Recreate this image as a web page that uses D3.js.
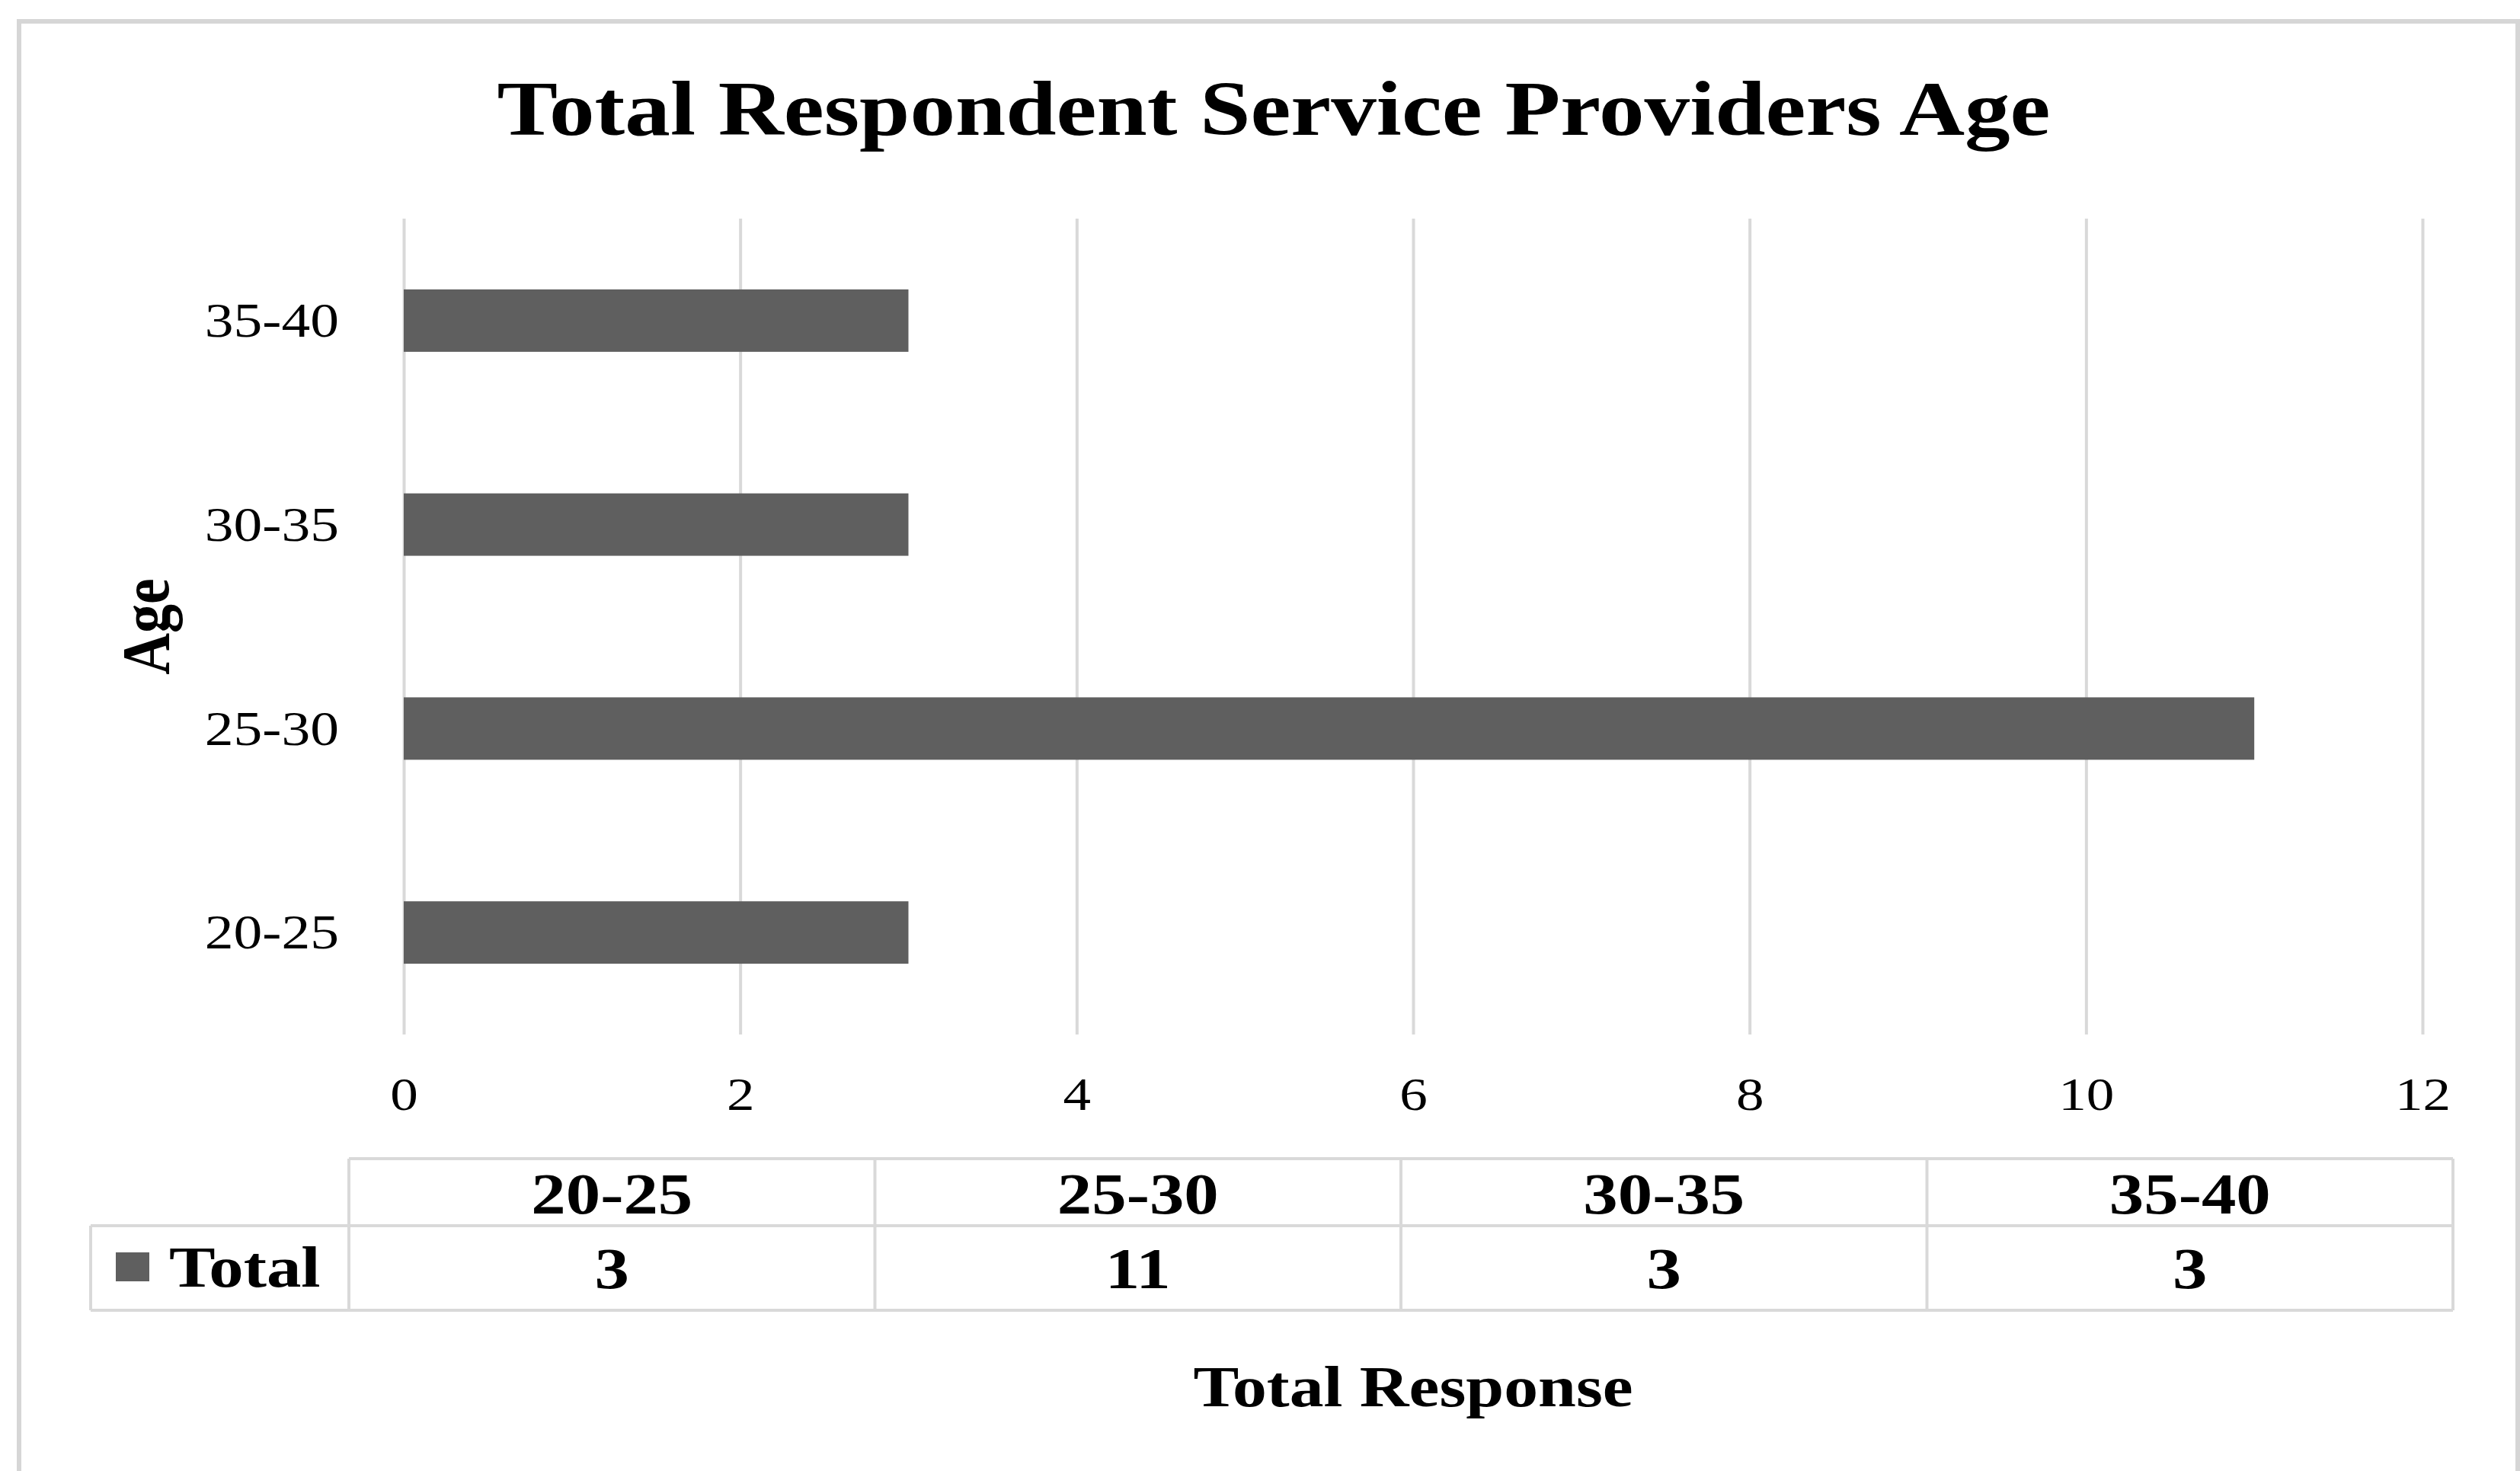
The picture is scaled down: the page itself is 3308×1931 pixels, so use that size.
<!DOCTYPE html>
<html>
<head>
<meta charset="utf-8">
<script src="https://cdn.jsdelivr.net/npm/d3@7"></script>
<style>
  html, body { margin: 0; padding: 0; background: #ffffff; }
  svg { display: block; }
  text { font-family: "Liberation Serif", "Times New Roman", serif; fill: #000; }
</style>
</head>
<body>
<svg id="chart" width="3308" height="1931"></svg>
<script>
// ---- data ----
const categories = ["20-25", "25-30", "30-35", "35-40"];
const values = [3, 11, 3, 3];
const seriesName = "Total";
const xTicks = [0, 2, 4, 6, 8, 10, 12];
const titleText = "Total Respondent Service Providers Age";
const xTitle = "Total Response";
const yTitle = "Age";

// ---- layout ----
const W = 3308, H = 1931;
const plot = { left: 530, right: 3180, top: 287, bottom: 1358 };
const STRETCH = 1.18;
const barColor = "#5f5f5f";
const gridColor = "#d9d9d9";

const svg = d3.select("#chart");
svg.append("rect").attr("width", W).attr("height", H).attr("fill", "#fff");

// outer chart border (top, left, right; bottom runs off the picture)
svg.append("path")
  .attr("d", `M25,${H + 10} L25,28 L3305,28 L3305,${H + 10}`)
  .attr("fill", "none").attr("stroke", "#d6d6d6").attr("stroke-width", 6);

function stretchedText(g, x, y, txt, size, weight, anchor) {
  return g.append("text")
    .attr("transform", `translate(${x},${y}) scale(${STRETCH},1)`)
    .attr("text-anchor", anchor || "middle")
    .attr("font-size", size)
    .attr("font-weight", weight || "normal")
    .text(txt);
}

// ---- scales ----
const x = d3.scaleLinear().domain([0, 12]).range([plot.left, plot.right]);
const y = d3.scaleBand()
  .domain(categories.slice().reverse())
  .range([plot.top, plot.bottom])
  .paddingInner(0.694).paddingOuter(0.347);

// ---- gridlines + x axis ----
const xAxis = d3.axisBottom(x).tickValues(xTicks).tickFormat(d3.format("d"))
  .tickSize(-(plot.bottom - plot.top)).tickPadding(0);
const gx = svg.append("g").attr("transform", `translate(0,${plot.bottom})`).call(xAxis);
gx.select(".domain").remove();
gx.selectAll(".tick line").attr("stroke", gridColor).attr("stroke-width", 4);
gx.selectAll(".tick text")
  .attr("y", 99).attr("dy", 0)
  .attr("transform", `scale(${STRETCH},1)`)
  .attr("font-size", 62)
  .attr("font-family", "Liberation Serif, serif")
  .attr("fill", "#111");

// ---- bars ----
svg.append("g").selectAll("rect")
  .data(categories.map((c, i) => ({ c, v: values[i] })))
  .join("rect")
  .attr("x", x(0))
  .attr("y", d => y(d.c))
  .attr("width", d => x(d.v) - x(0))
  .attr("height", y.bandwidth())
  .attr("fill", barColor);

// ---- y axis labels ----
const yAxis = d3.axisLeft(y).tickSize(0).tickPadding(0);
const gy = svg.append("g").attr("transform", `translate(${plot.left},0)`).call(yAxis);
gy.select(".domain").remove();
gy.selectAll(".tick text")
  .attr("x", 0).attr("dy", "0.33em")
  .attr("transform", `translate(-85,0) scale(${STRETCH},1)`)
  .attr("font-size", 64)
  .attr("font-family", "Liberation Serif, serif")
  .attr("fill", "#111");

// ---- titles ----
stretchedText(svg, 1672, 177, titleText, 101, "bold");
stretchedText(svg, (plot.left + plot.right) / 2, 1846, xTitle, 76, "bold");
svg.append("text")
  .attr("transform", `translate(221,${(plot.top + plot.bottom) / 2}) scale(${STRETCH},1) rotate(-90)`)
  .attr("text-anchor", "middle")
  .attr("font-size", 76).attr("font-weight", "bold")
  .text(yTitle);

// ---- data table ----
const table = { left: 458, right: 3220, legendLeft: 119, top: 1521, mid: 1609, bottom: 1720 };
const col = d3.scaleBand().domain(categories).range([table.left, table.right]);
const tg = svg.append("g");
const line = (x1, y1, x2, y2) => tg.append("line")
  .attr("x1", x1).attr("y1", y1).attr("x2", x2).attr("y2", y2)
  .attr("stroke", gridColor).attr("stroke-width", 4);

line(table.left, table.top, table.right, table.top);
line(table.legendLeft, table.mid, table.right, table.mid);
line(table.legendLeft, table.bottom, table.right, table.bottom);
line(table.legendLeft, table.mid, table.legendLeft, table.bottom);
categories.forEach(c => line(col(c), table.top, col(c), table.bottom));
line(table.right, table.top, table.right, table.bottom);

categories.forEach((c, i) => {
  const cx = col(c) + col.bandwidth() / 2;
  stretchedText(tg, cx, 1593, c, 77, "bold");
  stretchedText(tg, cx, 1691, String(values[i]), 77, "bold");
});

tg.append("rect").attr("x", 152).attr("y", 1644).attr("width", 44).attr("height", 38).attr("fill", barColor);
stretchedText(tg, 222, 1689, seriesName, 77, "bold", "start");
</script>
</body>
</html>
